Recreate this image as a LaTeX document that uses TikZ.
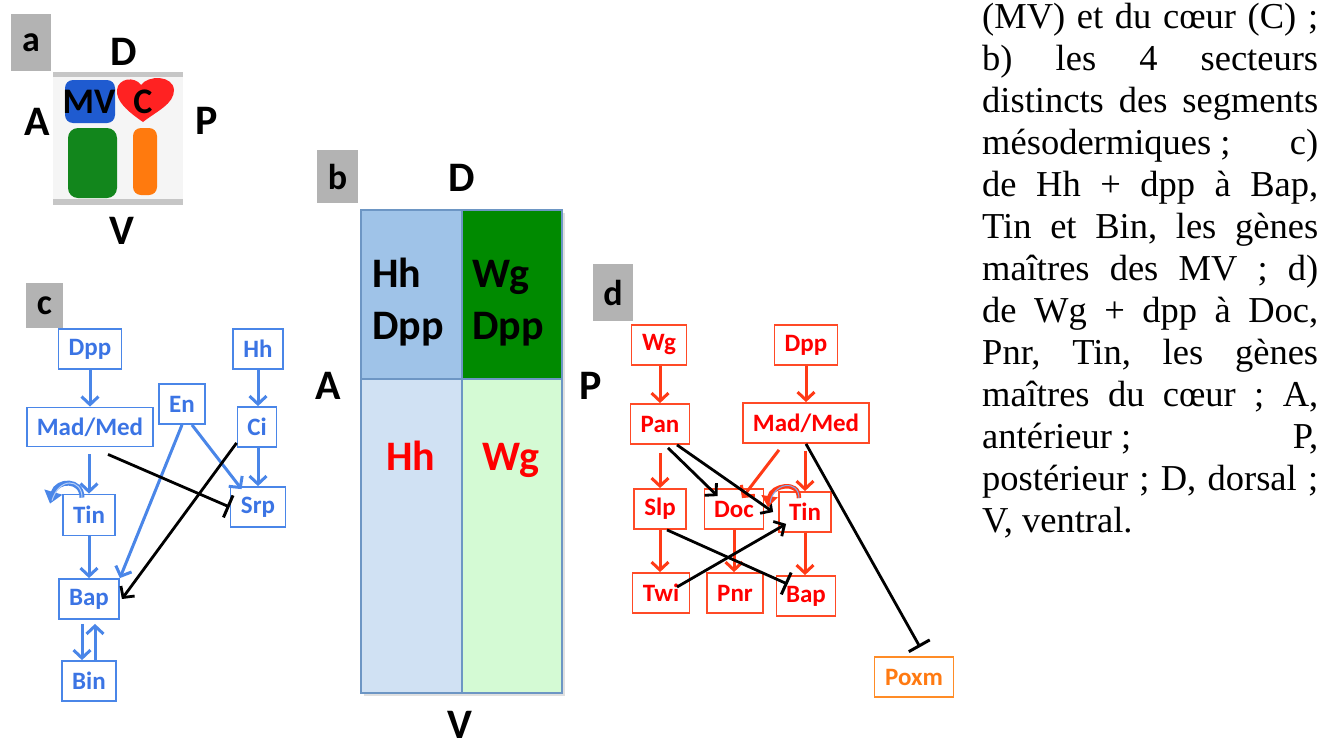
\documentclass[tikz,border=0pt]{standalone}
\usepackage{fontspec}
\setmainfont{Liberation Serif}
\newfontfamily\calfont{Carlito}
\usetikzlibrary{arrows.meta,calc}

\definecolor{tagGray}{HTML}{B3B3B3}
\definecolor{cBorder}{HTML}{4A86E8}
\definecolor{cText}{HTML}{3B74E4}
\definecolor{cLine}{HTML}{4A86E8}
\definecolor{dBorder}{HTML}{FF4A26}
\definecolor{dText}{HTML}{FF0000}
\definecolor{dLine}{HTML}{FF3A16}
\definecolor{oBorder}{HTML}{FF8C26}
\definecolor{oText}{HTML}{FF7A12}
\definecolor{bEdge}{HTML}{6D96C4}
\definecolor{bTL}{HTML}{9FC3E8}
\definecolor{bTR}{HTML}{008A00}
\definecolor{bBL}{HTML}{D0E1F3}
\definecolor{bBR}{HTML}{D4FAD4}
\definecolor{mvBlue}{HTML}{1F5BD0}
\definecolor{cRed}{HTML}{FF2222}
\definecolor{mGreen}{HTML}{12861C}
\definecolor{mOrange}{HTML}{FF7A0E}

\begin{document}
\begin{tikzpicture}[x=1pt,y=-1pt,
  tag/.style={fill=tagGray, inner sep=0pt, text=black,
    font=\calfont\bfseries\fontsize{36}{36}\selectfont},
  big/.style={inner sep=0pt, font=\calfont\bfseries\fontsize{42}{42}\selectfont},
  mid/.style={inner sep=0pt, font=\calfont\bfseries\fontsize{36}{36}\selectfont},
  cbox/.style={draw=cBorder, line width=1.8pt, text=cText, inner sep=0pt,
    minimum height=40, font=\calfont\bfseries\fontsize{25}{25}\selectfont},
  dbox/.style={draw=dBorder, line width=1.8pt, text=dText, inner sep=0pt,
    minimum height=40, font=\calfont\bfseries\fontsize{25}{25}\selectfont},
  obox/.style={draw=oBorder, line width=1.8pt, text=oText, inner sep=0pt,
    minimum height=40, font=\calfont\bfseries\fontsize{25}{25}\selectfont},
  carr/.style={draw=cLine, line width=3pt, -{Straight Barb[length=8pt,width=17pt]}},
  darr/.style={draw=dLine, line width=3pt, -{Straight Barb[length=8pt,width=17pt]}},
  blkarr/.style={draw=black, line width=2.8pt, -{Straight Barb[length=8pt,width=17pt]}},
  inh/.style={draw=black, line width=2.8pt, -{Bar[width=24pt,line width=3pt]}},
  txt/.style={anchor=base west, inner sep=0pt, font=\fontsize{36.5}{42}\selectfont}
]
\useasboundingbox (0,0) rectangle (1320,747);

% ---------- a) the segment sketch ----------
\node[tag, minimum width=40, minimum height=57] (taga) at (31,42.5) {a};
\fill[gray!8] (53,72) rectangle (183,205);
\fill[gray!45] (53,72) rectangle (183,77);
\fill[gray!45] (53,199) rectangle (183,205);
\fill[mvBlue, rounded corners=8pt] (65,80) rectangle (115,123);
\fill[cRed] (143,122) .. controls (127,111) and (116,101) .. (117,90)
  .. controls (118,78) and (135,76) .. (141,85)
  .. controls (148,75) and (173,75) .. (174,90)
  .. controls (174,104) and (157,111) .. (143,122) -- cycle;
\fill[mGreen, rounded corners=10pt] (68,128) rectangle (117,198);
\fill[mOrange, rounded corners=8pt] (133,128) rectangle (157,195);
\node[mid] (amv) at (89,102) {MV};
\node[mid] (ac) at (143,102) {C};
\node[big] (ad) at (124,52) {D};
\node[big] (aa) at (37,122) {A};
\node[big] (ap) at (207,121) {P};
\node[big] (av) at (122,231) {V};

% ---------- b) the four sectors ----------
\node[tag, minimum width=41, minimum height=53] (tagb) at (337.5,176.5) {b};
\fill[black!12] (364,213) rectangle (565,696);
\filldraw[fill=bTL, draw=bEdge, line width=1.5pt] (361,210) rectangle (462,379);
\filldraw[fill=bTR, draw=bEdge, line width=1.5pt] (462,210) rectangle (562,379);
\filldraw[fill=bBL, draw=bEdge, line width=1.5pt] (361,379) rectangle (462,693);
\filldraw[fill=bBR, draw=bEdge, line width=1.5pt] (462,379) rectangle (562,693);
\node[big, anchor=base west] (bhh) at (372,287) {Hh};
\node[big, anchor=base west] (bdpp1) at (372,339) {Dpp};
\node[big, anchor=base west] (bwg) at (472,287) {Wg};
\node[big, anchor=base west] (bdpp2) at (472,339) {Dpp};
\node[big, text=dText, anchor=base] (bhh2) at (411,470) {Hh};
\node[big, text=dText, anchor=base] (bwg2) at (511,470) {Wg};
\node[big] (bd) at (462,178) {D};
\node[big] (ba) at (328,386) {A};
\node[big] (bp) at (591,386) {P};
\node[big] (bv) at (460,725) {V};

% ---------- c) network of the visceral mesoderm ----------
\node[tag, minimum width=37, minimum height=45] (tagc) at (44.5,305.5) {c};
\node[cbox, minimum width=63] (cdpp) at (90,349) {Dpp};
\node[cbox, minimum width=50] (chh) at (258,349) {Hh};
\node[cbox, minimum width=46] (cen) at (182,404) {En};
\node[cbox, minimum width=126, minimum height=39] (cmad) at (90,427) {Mad/Med};
\node[cbox, minimum width=39] (cci) at (257,427) {Ci};
\node[cbox, minimum width=52, minimum height=41] (ctin) at (89,515) {Tin};
\node[cbox, minimum width=55] (csrp) at (258,507) {Srp};
\node[cbox, minimum width=60] (cbap) at (89,599) {Bap};
\node[cbox, minimum width=54] (cbin) at (89,681) {Bin};

\draw[carr] (cdpp.south) -- (cdpp.south |- cmad.north);
\draw[carr] (chh.south) -- (chh.south |- cci.north);
\draw[carr, shorten <=7pt] (ctin.north |- cmad.south) -- (ctin.north);
\draw[carr] (ctin.south) -- (cbap.north);
\draw[carr, shorten <=4pt] ([xshift=-7pt]cbap.south) -- ([xshift=-7pt]cbin.north);
\draw[carr, shorten >=4pt] ([xshift=6pt]cbin.north) -- ([xshift=6pt]cbap.south);
\draw[carr] (csrp.north |- cci.south) -- (csrp.north);
\draw[carr] ([xshift=10pt]cen.south) -- ([xshift=12pt,yshift=-3pt]csrp.north west);
\draw[carr] (cen.south) -- (cbap.north east);
\draw[inh] ([xshift=18pt,yshift=-7pt]cmad.south) -- (csrp.west);
\draw[blkarr] ([yshift=5pt]cci.south west) -- ([xshift=2pt]cbap.east);
% Tin activates itself
\draw[draw=cLine, line width=5pt, -{Triangle[length=12pt,width=18pt]}]
  ([xshift=-7pt,yshift=-4pt]ctin.north) .. controls +(0,-19) and +(7,-24)
  .. ([xshift=-39pt,yshift=-10pt]ctin.north);
\draw[draw=white!60!cLine, line width=1pt]
  ([xshift=-7pt,yshift=-4pt]ctin.north) .. controls +(0,-19) and +(7,-24)
  .. ([xshift=-37pt,yshift=-7pt]ctin.north);

% ---------- d) network of the heart ----------
\node[tag, minimum width=40, minimum height=57] (tagd) at (613,292.5) {d};
\node[dbox, minimum width=55] (dwg) at (659,345) {Wg};
\node[dbox, minimum width=63] (ddpp) at (806,345) {Dpp};
\node[dbox, minimum width=59] (dpan) at (660,424) {Pan};
\node[dbox, minimum width=126] (dmad) at (806,423) {Mad/Med};
\node[dbox, minimum width=52] (dslp) at (660,509) {Slp};
\node[dbox, minimum width=59] (ddoc) at (734,509) {Doc};
\node[dbox, minimum width=52] (dtin) at (805,512) {Tin};
\node[dbox, minimum width=57] (dtwi) at (661,593) {Twi};
\node[dbox, minimum width=56] (dpnr) at (735,593) {Pnr};
\node[dbox, minimum width=59] (dbap) at (806,596) {Bap};
\node[obox, minimum width=79] (dpoxm) at (914,677) {Poxm};

\draw[darr] (dpan.north |- dwg.south) -- (dpan.north);
\draw[darr] (ddpp.south) -- (dmad.north);
\draw[darr, shorten <=8pt] (dslp.north |- dpan.south) -- (dslp.north);
\draw[darr, shorten <=7pt] (dtin.north |- dmad.south) -- (dtin.north);
\draw[darr] (dslp.south) -- (dslp.south |- dtwi.north);
\draw[darr] (ddoc.south) -- (ddoc.south |- dpnr.north);
\draw[darr] (dtin.south) -- (dtin.south |- dbap.north);
\draw[darr] ([xshift=-27pt,yshift=-6pt]dmad.south) -- ([xshift=8pt,yshift=-10pt]ddoc.north);

\draw[blkarr] ([xshift=8pt,yshift=-3pt]dpan.south) -- ([xshift=14pt,yshift=-8pt]ddoc.north west);
\draw[blkarr] ([xshift=17pt]dpan.south) -- ([xshift=-5pt]dtin.west);
\draw[blkarr] ([xshift=16pt,yshift=6pt]dtwi.center) -- ([xshift=8pt,yshift=9pt]dtin.south west);
\draw[inh] ([xshift=7pt]dslp.south) -- ([xshift=12pt,yshift=-9pt]dbap.north west);
\draw[inh] (dmad.south) -- ([xshift=6pt,yshift=9pt]dpoxm.north);
% Tin activates itself
\draw[draw=dLine, line width=4.5pt, -{Triangle[length=11pt,width=16pt]}]
  ([xshift=-6pt,yshift=-7pt]dtin.north) .. controls +(0,-19) and +(3,-21)
  .. ([xshift=-37pt,yshift=-16pt]dtin.north);
\draw[draw=cLine!70!white, line width=1pt]
  ([xshift=-6pt,yshift=-7pt]dtin.north) .. controls +(0,-19) and +(3,-21)
  .. ([xshift=-35pt,yshift=-12pt]dtin.north);

% ---------- legend text ----------
\node[txt] (l1) at (982,28) {\hbox to 336pt{(MV)\hfill et\hfill du\hfill cœur\hfill (C)\hfill ;}};
\node[txt] (l2) at (982,70) {\hbox to 336pt{b)\hfill les\hfill 4\hfill secteurs}};
\node[txt] (l3) at (982,112) {\hbox to 336pt{distincts\hfill des\hfill segments}};
\node[txt] (l4) at (982,154) {\hbox to 336pt{mésodermiques ;\hfill c)}};
\node[txt] (l5) at (982,196) {\hbox to 336pt{de\hfill Hh\hfill +\hfill dpp\hfill à\hfill Bap,}};
\node[txt] (l6) at (982,238) {\hbox to 336pt{Tin\hfill et\hfill Bin,\hfill les\hfill gènes}};
\node[txt] (l7) at (982,280) {\hbox to 336pt{maîtres\hfill des\hfill MV\hfill ;\hfill d)}};
\node[txt] (l8) at (982,322) {\hbox to 336pt{de\hfill Wg\hfill +\hfill dpp\hfill à\hfill Doc,}};
\node[txt] (l9) at (982,364) {\hbox to 336pt{Pnr,\hfill Tin,\hfill les\hfill gènes}};
\node[txt] (l10) at (982,406) {\hbox to 336pt{maîtres\hfill du\hfill cœur\hfill ;\hfill A,}};
\node[txt] (l11) at (982,448) {\hbox to 336pt{antérieur ;\hfill P,}};
\node[txt] (l12) at (982,490) {\hbox to 336pt{postérieur\hfill ;\hfill D,\hfill dorsal\hfill ;}};
\node[txt] (l13) at (982,532) {V, ventral.};
\end{tikzpicture}
\end{document}
